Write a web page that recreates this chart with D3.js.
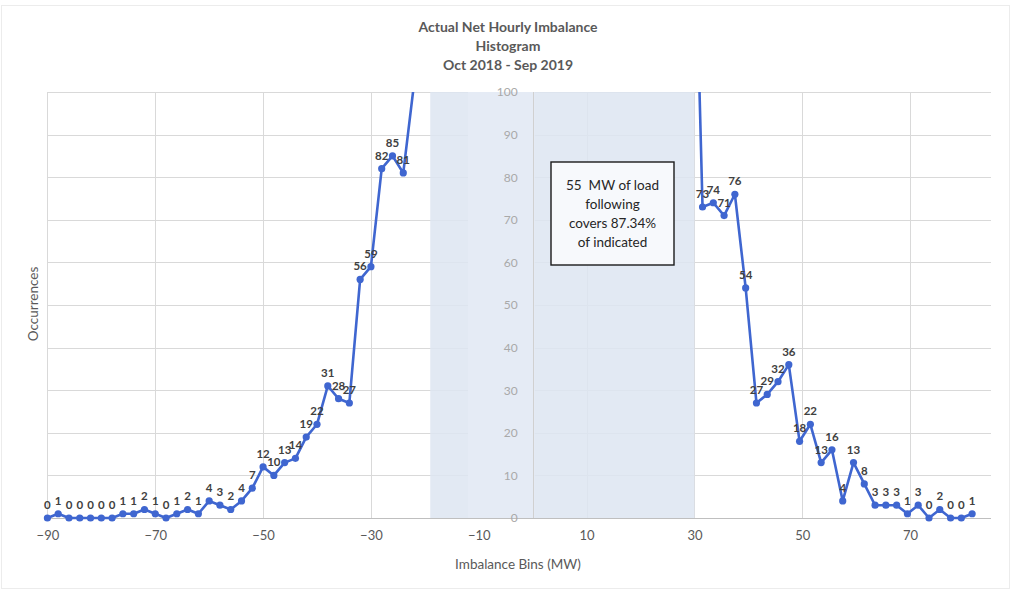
<!DOCTYPE html>
<html>
<head>
<meta charset="utf-8">
<script src="https://cdn.jsdelivr.net/npm/d3@7"></script>
<style>
  html, body { margin: 0; padding: 0; background: #fff; }
  svg { display: block; font-family: Lato, "Open Sans", "Liberation Sans", sans-serif; }
</style>
</head>
<body>
<svg id="chart" width="1012" height="591"></svg>
<script>
// Imbalance bins (MW) and hourly occurrence counts, negative side
const leftBins   = [-90, -88, -86, -84, -82, -80, -78, -76, -74, -72, -70, -68, -66, -64, -62, -60, -58,
                    -56, -54, -52, -50, -48, -46, -44, -42, -40, -38, -36, -34, -32, -30, -28, -26, -24];
const leftCounts = [0, 1, 0, 0, 0, 0, 0, 1, 1, 2, 1, 0, 1, 2, 1, 4, 3,
                    2, 4, 7, 12, 10, 13, 14, 19, 22, 31, 28, 27, 56, 59, 82, 85, 81];

// Central bins run off the top of the 0-100 axis (unlabelled)
const offScaleBins   = [-22, 29.5];
const offScaleCounts = [102, 170];

// Positive side
const rightBins   = [31.5, 33.5, 35.5, 37.5, 39.5, 41.5, 43.5, 45.5, 47.5, 49.5, 51.5, 53.5, 55.5,
                     57.5, 59.5, 61.5, 63.5, 65.5, 67.5, 69.5, 71.5, 73.5, 75.5, 77.5, 79.5, 81.5];
const rightCounts = [73, 74, 71, 76, 54, 27, 29, 32, 36, 18, 22, 13, 16,
                     4, 13, 8, 3, 3, 3, 1, 3, 0, 2, 0, 0, 1];

// Axis ticks
const xTicks = [-90, -70, -50, -30, -10, 10, 30, 50, 70];
const yTicks = [0, 10, 20, 30, 40, 50, 60, 70, 80, 90, 100];

// Load-following coverage band (MW)
const coverBand = [-19, 30];

const titleLines = ["Actual Net Hourly Imbalance", "Histogram", "Oct 2018 - Sep 2019"];
const noteLines  = ["55  MW of load", "following", "covers 87.34%", "of indicated"];

const svg = d3.select("#chart");
const W = 1012, H = 591;
const plot = { left: 47.4, right: 991, top: 92, bottom: 518 };

const x = d3.scaleLinear().domain([-90, 85]).range([plot.left, plot.right]);
const y = d3.scaleLinear().domain([0, 100]).range([plot.bottom, plot.top]);

// outer frame
svg.append("rect").attr("x", 1.5).attr("y", 5.5).attr("width", W - 4).attr("height", H - 8)
  .attr("fill", "#fff").attr("stroke", "#ececec").attr("stroke-width", 1);

// title
svg.append("g").selectAll("text").data(titleLines).join("text")
  .attr("x", 508).attr("y", (d, i) => 32 + i * 19)
  .attr("text-anchor", "middle").attr("font-size", 14).attr("font-weight", 700)
  .attr("fill", "#595959").text(d => d);

// gridlines
const grid = svg.append("g");
grid.selectAll("line.h").data(yTicks.filter(t => t > 0)).join("line")
  .attr("class", "h")
  .attr("x1", plot.left).attr("x2", plot.right)
  .attr("y1", d => Math.round(y(d)) + 0.5).attr("y2", d => Math.round(y(d)) + 0.5)
  .attr("stroke", "#d9d9d9").attr("stroke-width", 1);
grid.selectAll("line.v").data(xTicks).join("line")
  .attr("class", "v")
  .attr("x1", d => Math.round(x(d)) + 0.5).attr("x2", d => Math.round(x(d)) + 0.5)
  .attr("y1", plot.top).attr("y2", plot.bottom)
  .attr("stroke", "#d9d9d9").attr("stroke-width", 1);

// coverage band shading
svg.append("rect")
  .attr("x", x(coverBand[0])).attr("width", x(coverBand[1]) - x(coverBand[0]))
  .attr("y", plot.top).attr("height", plot.bottom - plot.top)
  .attr("fill", "#dde5f1").attr("opacity", 0.85);
// lighter strip behind the value labels of the vertical axis
svg.append("rect")
  .attr("x", 468).attr("width", x(0) - 468 + 2)
  .attr("y", plot.top).attr("height", plot.bottom - plot.top)
  .attr("fill", "#e5ebf5");

// vertical axis at x = 0
svg.append("line")
  .attr("x1", Math.round(x(0)) + 0.5).attr("x2", Math.round(x(0)) + 0.5)
  .attr("y1", plot.top).attr("y2", plot.bottom)
  .attr("stroke", "#d0d0d0").attr("stroke-width", 1);

// horizontal axis line
svg.append("line")
  .attr("x1", plot.left).attr("x2", plot.right)
  .attr("y1", Math.round(y(0)) + 0.5).attr("y2", Math.round(y(0)) + 0.5)
  .attr("stroke", "#bfbfbf").attr("stroke-width", 1);

// y axis value labels, drawn with d3 axis (no domain / tick lines)
const yAxis = svg.append("g")
  .attr("transform", `translate(${x(0) - 15},0)`)
  .call(d3.axisLeft(y).tickValues(yTicks).tickSize(0).tickPadding(0));
yAxis.select(".domain").remove();
yAxis.selectAll("text").attr("font-size", 12).attr("fill", "#a9a9a9")
  .attr("font-family", "Lato, 'Open Sans', sans-serif");

// x axis labels
const xAxis = svg.append("g")
  .attr("transform", `translate(0,${plot.bottom})`)
  .call(d3.axisBottom(x).tickValues(xTicks).tickSize(0).tickPadding(13));
xAxis.select(".domain").remove();
xAxis.selectAll("text").attr("font-size", 13).attr("fill", "#595959")
  .attr("font-family", "Lato, 'Open Sans', sans-serif");

// axis titles
svg.append("text").attr("x", 518).attr("y", 569)
  .attr("text-anchor", "middle").attr("font-size", 13.5).attr("fill", "#595959")
  .text("Imbalance Bins (MW)");
svg.append("text")
  .attr("transform", "translate(38,304) rotate(-90)")
  .attr("text-anchor", "middle").attr("font-size", 13.5).attr("fill", "#595959")
  .text("Occurrences");

// series
const series = leftBins.map((b, i) => ({ bin: b, n: leftCounts[i], labelled: true }))
  .concat(offScaleBins.map((b, i) => ({ bin: b, n: offScaleCounts[i], labelled: false })))
  .concat(rightBins.map((b, i) => ({ bin: b, n: rightCounts[i], labelled: true })))
  .sort((a, b) => a.bin - b.bin);

svg.append("clipPath").attr("id", "plotClip")
  .append("rect").attr("x", plot.left - 6).attr("y", plot.top)
  .attr("width", plot.right - plot.left + 12).attr("height", plot.bottom - plot.top + 8);

const lineColor = "#3f66d0";
const g = svg.append("g").attr("clip-path", "url(#plotClip)");
g.append("path").datum(series)
  .attr("fill", "none").attr("stroke", lineColor).attr("stroke-width", 2.6)
  .attr("stroke-linejoin", "round")
  .attr("d", d3.line().x(d => x(d.bin)).y(d => y(d.n)));
g.selectAll("circle").data(series).join("circle")
  .attr("cx", d => x(d.bin)).attr("cy", d => y(d.n)).attr("r", 3.6)
  .attr("fill", lineColor);

// data labels
svg.append("g").selectAll("text").data(series.filter(d => d.labelled)).join("text")
  .attr("x", d => x(d.bin)).attr("y", d => y(d.n) - 9)
  .attr("text-anchor", "middle").attr("font-size", 11.5).attr("font-weight", 700)
  .attr("fill", "#404040").text(d => d.n);

// note box
const box = { x: 551, y: 162, w: 123, h: 103 };
svg.append("rect").attr("x", box.x).attr("y", box.y).attr("width", box.w).attr("height", box.h)
  .attr("fill", "#f7f9fc").attr("stroke", "#1a1a1a").attr("stroke-width", 1.4);
svg.append("g").selectAll("text").data(noteLines).join("text")
  .attr("x", box.x + box.w / 2).attr("y", (d, i) => 190 + i * 19)
  .attr("text-anchor", "middle").attr("font-size", 13.5).attr("fill", "#262626")
  .style("white-space", "pre")
  .text(d => d);
</script>
</body>
</html>
